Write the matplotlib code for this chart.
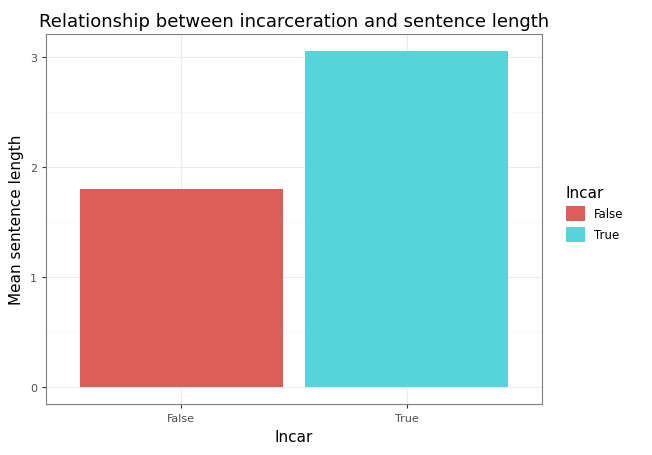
import matplotlib
matplotlib.use("Agg")
import matplotlib.pyplot as plt
from matplotlib.patches import Patch

categories = ["False", "True"]
values = [1.80, 3.055]
colors = ["#db5f57", "#56d4dc"]

fig = plt.figure(figsize=(6.52, 4.56), dpi=100)
ax = fig.add_axes([46 / 652, 1 - 405 / 456, 496 / 652, 370 / 456])

xs = [1, 2]
ax.bar(xs, values, width=0.9, color=colors, zorder=3)
ax.set_xlim(0.4, 2.6)
ax.set_ylim(-0.155, 3.21)
ax.set_xticks(xs)
ax.set_xticklabels(categories)
ax.set_yticks([0, 1, 2, 3])
ax.set_yticks([0.5, 1.5, 2.5], minor=True)
ax.grid(which="major", color="#ebebeb", linewidth=0.8, zorder=0)
ax.grid(which="minor", axis="y", color="#f5f5f5", linewidth=0.5, zorder=0)
ax.tick_params(which="both", length=3, color="#333333", labelsize=8, labelcolor="#4d4d4d")
ax.tick_params(which="minor", length=0)
for s in ax.spines.values():
    s.set_color("#7f7f7f")
ax.set_xlabel("Incar", fontsize=11)
ax.set_ylabel("Mean sentence length", fontsize=11)
ax.set_title("Relationship between incarceration and sentence length", fontsize=13)

handles = [Patch(facecolor=c, label=l) for c, l in zip(colors, categories)]
fig.legend(handles=handles, title="Incar", loc="center left", bbox_to_anchor=(555 / 652, 0.53),
           frameon=False, fontsize=8.5, title_fontsize=11, handlelength=1.6, handleheight=1.6,
           alignment="left")

fig.savefig("out.png", dpi=100)
